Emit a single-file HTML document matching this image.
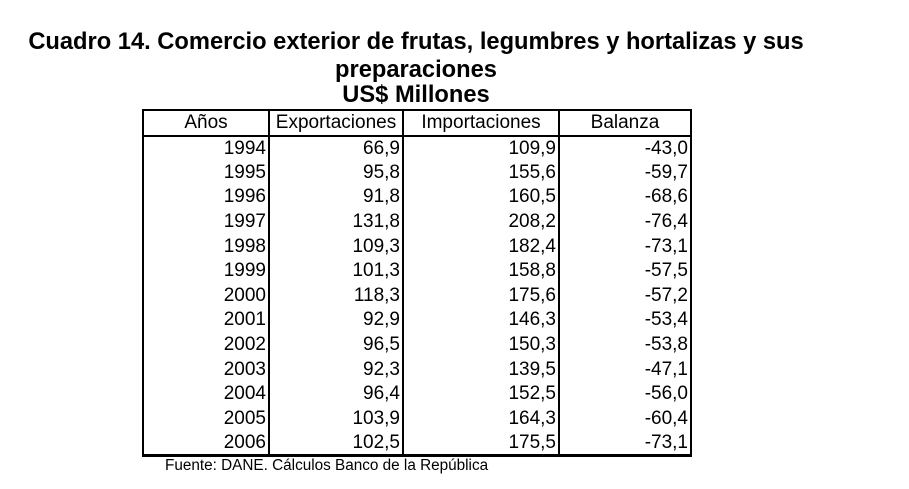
<!DOCTYPE html>
<html><head><meta charset="utf-8"><style>
body{margin:0;width:909px;height:489px;background:#fff;font-family:"Liberation Sans",Arial,sans-serif;position:relative;overflow:hidden}
.t{position:absolute;left:0;width:832px;text-align:center;font-weight:bold;font-size:23.7px;color:#000;line-height:26px;white-space:nowrap}
table{position:absolute;left:142px;top:109px;border-collapse:collapse;font-size:19px}
td{height:24.6px;padding:0 2px 0 0;text-align:right;line-height:20px;border-left:2px solid #000;border-right:2px solid #000;box-sizing:border-box}
tr{height:24.6px}
th{font-weight:normal;height:24px;padding:0;border:2px solid #000;text-align:center;line-height:20px}
tr:last-child td{border-bottom:3px solid #000}
.f{position:absolute;left:165px;top:457px;font-size:15.3px}
</style></head><body>
<div class="t" style="top:29px">Cuadro 14. Comercio exterior de frutas, legumbres y hortalizas y sus</div>
<div class="t" style="top:57px">preparaciones</div>
<div class="t" style="top:82px">US$ Millones</div>
<table>
<tr><th style="width:124px">Años</th><th style="width:132px">Exportaciones</th><th style="width:154px">Importaciones</th><th style="width:130px">Balanza</th></tr>
<tr><td>1994</td><td>66,9</td><td>109,9</td><td>-43,0</td></tr>
<tr><td>1995</td><td>95,8</td><td>155,6</td><td>-59,7</td></tr>
<tr><td>1996</td><td>91,8</td><td>160,5</td><td>-68,6</td></tr>
<tr><td>1997</td><td>131,8</td><td>208,2</td><td>-76,4</td></tr>
<tr><td>1998</td><td>109,3</td><td>182,4</td><td>-73,1</td></tr>
<tr><td>1999</td><td>101,3</td><td>158,8</td><td>-57,5</td></tr>
<tr><td>2000</td><td>118,3</td><td>175,6</td><td>-57,2</td></tr>
<tr><td>2001</td><td>92,9</td><td>146,3</td><td>-53,4</td></tr>
<tr><td>2002</td><td>96,5</td><td>150,3</td><td>-53,8</td></tr>
<tr><td>2003</td><td>92,3</td><td>139,5</td><td>-47,1</td></tr>
<tr><td>2004</td><td>96,4</td><td>152,5</td><td>-56,0</td></tr>
<tr><td>2005</td><td>103,9</td><td>164,3</td><td>-60,4</td></tr>
<tr><td>2006</td><td>102,5</td><td>175,5</td><td>-73,1</td></tr>
</table>
<div class="f">Fuente: DANE. Cálculos Banco de la República</div>
</body></html>
